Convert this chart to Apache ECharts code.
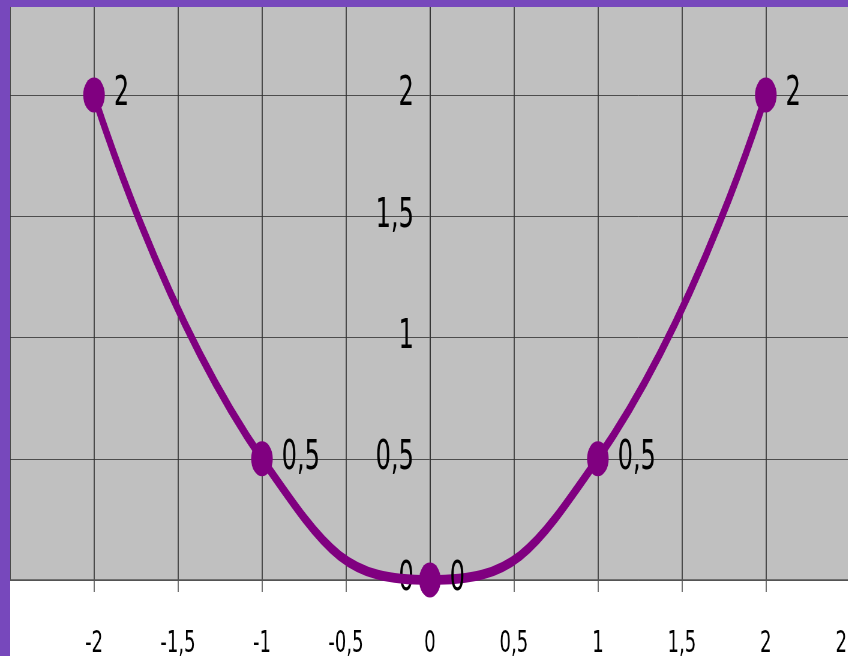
<!DOCTYPE html>
<html>
<head>
<meta charset="utf-8">
<script src="https://cdn.jsdelivr.net/npm/echarts@6/dist/echarts.min.js"></script>
<style>
  html, body { margin: 0; padding: 0; background: #fff; overflow: hidden; }
  #wrap { position: relative; width: 848px; height: 656px; overflow: hidden; }
  /* the original picture is squeezed sideways, so draw wide and scale down */
  #chart { position: absolute; left: 0; top: 0; width: 1413.33px; height: 656px; transform: scaleX(0.6); transform-origin: 0 0; }
  /* purple frame on the left and top edges */
  .frame-left { position: absolute; left: 0; top: 0; width: 10px; height: 656px; background: #7748bc; z-index: 10; }
  .frame-top { position: absolute; left: 0; top: 0; width: 848px; height: 7px; background: #7748bc; z-index: 10; }
</style>
</head>
<body>
<div id="wrap">
  <div id="chart"></div>
  <div class="frame-left"></div>
  <div class="frame-top"></div>
</div>
<script>
// data
const xValues = [-2, -1, 0, 1, 2]
const yValues = [2, 0.5, 0, 0.5, 2]
const xRange = [-2.5, 2.5]
const yRange = [0, 2.5]
const tickStep = 0.5

const SX = 0.6
const W = 848 / SX
const FONT = 'DejaVu Sans'
const purple = '#800080'

const gridLeft = 10 / SX
const gridRight = W - 850 / SX
const gridWidth = W - gridLeft - gridRight
// y axis sits on x = 0
const yAxisOffset = -(0 - xRange[0]) / (xRange[1] - xRange[0]) * gridWidth

// comma as decimal separator
const fmt = v => String(v).replace('.', ',')

const chart = echarts.init(document.getElementById('chart'), null, { renderer: 'canvas' })

chart.setOption({
  animation: false,
  backgroundColor: '#ffffff',
  grid: {
    left: gridLeft,
    right: gridRight,
    top: -26.25,
    bottom: 76,
    show: true,
    backgroundColor: '#c0c0c0',
    borderWidth: 0,
    containLabel: false,
    outerBoundsMode: 'none'
  },
  xAxis: {
    type: 'value',
    min: xRange[0],
    max: xRange[1],
    interval: tickStep,
    axisLine: { show: true, onZero: false, lineStyle: { color: '#555', width: 1.5 } },
    axisTick: { show: true, length: 12, lineStyle: { color: '#555', width: 1 / SX } },
    axisLabel: {
      margin: 49,
      fontFamily: FONT,
      fontSize: 30,
      color: '#000',
      showMinLabel: false,
      formatter: fmt
    },
    splitLine: { show: true, lineStyle: { color: '#333', width: 1 / SX } }
  },
  yAxis: {
    type: 'value',
    position: 'left',
    offset: yAxisOffset,
    min: yRange[0],
    max: yRange[1],
    interval: tickStep,
    axisLine: { show: true, onZero: false, lineStyle: { color: '#333', width: 1 / SX } },
    axisTick: { show: false },
    axisLabel: {
      margin: 27,
      fontFamily: FONT,
      fontSize: 40,
      color: '#000',
      formatter: fmt
    },
    splitLine: { show: true, lineStyle: { color: '#4d4d4d', width: 1 } }
  },
  series: [{
    type: 'line',
    data: xValues.map((x, i) => [x, yValues[i]]),
    smooth: 0.5,
    symbol: 'circle',
    symbolSize: [36, 35],
    lineStyle: { color: purple, width: 10 },
    itemStyle: { color: purple },
    label: {
      show: true,
      position: 'right',
      distance: 15,
      fontFamily: FONT,
      fontSize: 40,
      color: '#000',
      formatter: p => fmt(p.value[1])
    },
    z: 5
  }]
})
</script>
</body>
</html>
